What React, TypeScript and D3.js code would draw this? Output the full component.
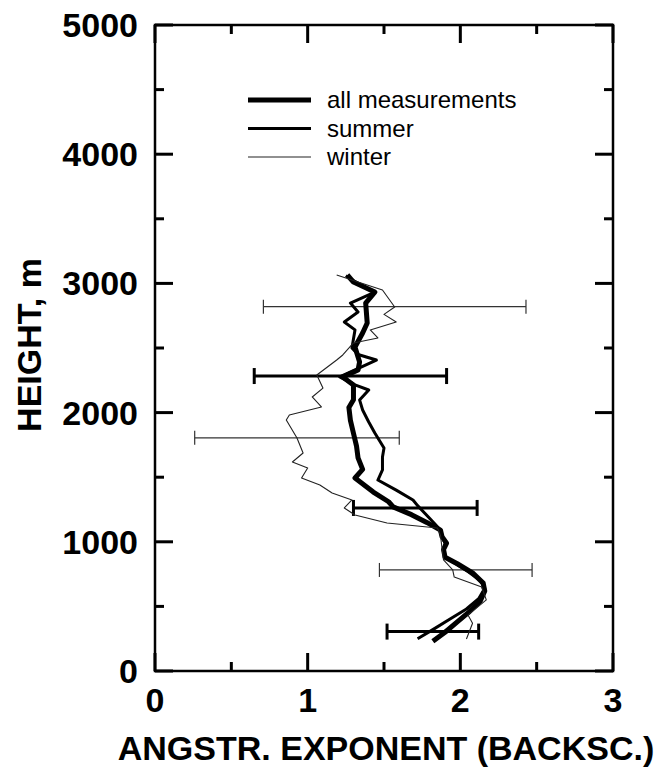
import React from 'react';
import * as d3 from 'd3';

// profiles: [angstrom exponent, height m], bottom -> top
const allMeasurements: [number, number][] = [
  [1.82, 230], [1.90, 300], [1.98, 380], [2.06, 460], [2.13, 540], [2.16, 620],
  [2.15, 680], [2.08, 760], [1.98, 830], [1.90, 880], [1.89, 940], [1.91, 990],
  [1.88, 1040], [1.87, 1090], [1.78, 1150], [1.68, 1210], [1.56, 1270], [1.53, 1310],
  [1.43, 1385], [1.31, 1494], [1.36, 1560], [1.33, 1650], [1.32, 1740], [1.30, 1840],
  [1.28, 1940], [1.27, 2040], [1.30, 2100], [1.30, 2214], [1.23, 2276], [1.33, 2330],
  [1.34, 2392], [1.31, 2508], [1.36, 2616], [1.39, 2694], [1.38, 2848], [1.44, 2933],
  [1.30, 3010], [1.26, 3065],
];

const summer: [number, number][] = [
  [1.72, 250], [1.82, 320], [1.93, 400], [2.04, 480], [2.12, 560], [2.16, 640],
  [2.13, 700], [2.05, 770], [1.97, 830], [1.90, 880], [1.89, 940], [1.90, 990],
  [1.88, 1040], [1.87, 1091], [1.80, 1180], [1.72, 1280], [1.69, 1324], [1.58, 1400],
  [1.46, 1478], [1.49, 1556], [1.49, 1657], [1.50, 1726], [1.44, 1842], [1.40, 1927],
  [1.36, 2020], [1.34, 2098], [1.40, 2175], [1.31, 2214], [1.21, 2276], [1.45, 2407],
  [1.33, 2450], [1.29, 2500], [1.31, 2640], [1.24, 2701], [1.33, 2779], [1.28, 2848],
  [1.44, 2933], [1.33, 3000], [1.25, 3060],
];

const winter: [number, number][] = [
  [2.04, 248], [2.08, 370], [2.05, 433], [2.17, 550], [2.14, 650], [1.96, 727],
  [1.95, 782], [1.89, 860], [1.88, 950], [1.87, 1050], [1.85, 1107], [1.52, 1145],
  [1.31, 1207], [1.24, 1262], [1.29, 1324], [1.16, 1378], [1.08, 1440], [0.96, 1494],
  [1.00, 1571], [0.90, 1618], [0.97, 1687], [0.93, 1803], [0.86, 1943], [0.88, 1981],
  [1.09, 2044], [1.03, 2121], [1.10, 2190], [1.06, 2291], [1.19, 2407], [1.23, 2446],
  [1.30, 2539], [1.46, 2578], [1.41, 2640], [1.58, 2701], [1.50, 2760], [1.57, 2817],
  [1.49, 2949], [1.19, 3065],
];

// error bars: height, low, high, thick (summer) or thin (winter)
const errHeights = [2820, 2283, 1805, 1262, 782, 305];
const errLow = [0.71, 0.65, 0.26, 1.30, 1.47, 1.52];
const errHigh = [2.43, 1.91, 1.60, 2.11, 2.47, 2.12];
const errThick = [false, true, false, true, false, true];

const legendLabels = ['all measurements', 'summer', 'winter'];
const xTicks = [0, 1, 2, 3];
const yTicks = [0, 1000, 2000, 3000, 4000, 5000];

const width = 663;
const height = 770;
const font = '"Liberation Sans", Arial, sans-serif';

export default function App() {
  const x = d3.scaleLinear().domain([0, 3]).range([155, 613]);
  const y = d3.scaleLinear().domain([0, 5000]).range([671, 25]);
  const line = d3.line<[number, number]>().x(d => x(d[0])).y(d => y(d[1]));

  const series = [
    { data: allMeasurements, w: 5, color: '#000' },
    { data: summer, w: 3, color: '#000' },
    { data: winter, w: 1.1, color: '#222' },
  ];

  const xMinor = d3.range(0, 3.01, 0.5);
  const yMinor = d3.range(0, 5001, 500);

  return (
    <svg width={width} height={height} style={{ position: 'absolute', left: 0, top: 0 }}>
      <rect width={width} height={height} fill="#fff" />

      {/* frame */}
      <rect x={x(0)} y={y(5000)} width={x(3) - x(0)} height={y(0) - y(5000)}
        fill="none" stroke="#000" strokeWidth={2.5} />

      {/* ticks on all four sides, pointing inward */}
      {xMinor.map(v => {
        const len = Number.isInteger(v) ? 18 : 9;
        return (
          <g key={'xt' + v} stroke="#000" strokeWidth={3}>
            <line x1={x(v)} x2={x(v)} y1={y(0)} y2={y(0) - len} />
            <line x1={x(v)} x2={x(v)} y1={y(5000)} y2={y(5000) + len} />
          </g>
        );
      })}
      {yMinor.map(v => {
        const len = v % 1000 === 0 ? 18 : 9;
        return (
          <g key={'yt' + v} stroke="#000" strokeWidth={3}>
            <line x1={x(0)} x2={x(0) + len} y1={y(v)} y2={y(v)} />
            <line x1={x(3)} x2={x(3) - len} y1={y(v)} y2={y(v)} />
          </g>
        );
      })}

      {/* tick labels */}
      {xTicks.map(v => (
        <text key={'xl' + v} x={x(v)} y={712} textAnchor="middle"
          fontFamily={font} fontWeight="bold" fontSize={34}>{v}</text>
      ))}
      {yTicks.map(v => (
        <text key={'yl' + v} x={138} y={y(v) + 12} textAnchor="end"
          fontFamily={font} fontWeight="bold" fontSize={34}>{v}</text>
      ))}

      {/* axis titles */}
      <text x={386} y={760} textAnchor="middle" fontFamily={font} fontWeight="bold" fontSize={34}>
        ANGSTR. EXPONENT (BACKSC.)
      </text>
      <text transform="translate(41,345) rotate(-90)" textAnchor="middle"
        fontFamily={font} fontWeight="bold" fontSize={34}>HEIGHT, m</text>

      {/* error bars */}
      {errHeights.map((h, i) => {
        const thick = errThick[i];
        const sw = thick ? 3 : 1.2;
        const cap = thick ? 8 : 7;
        const col = thick ? '#000' : '#333';
        return (
          <g key={'eb' + i} stroke={col} strokeWidth={sw}>
            <line x1={x(errLow[i])} x2={x(errHigh[i])} y1={y(h)} y2={y(h)} />
            <line x1={x(errLow[i])} x2={x(errLow[i])} y1={y(h) - cap} y2={y(h) + cap} />
            <line x1={x(errHigh[i])} x2={x(errHigh[i])} y1={y(h) - cap} y2={y(h) + cap} />
          </g>
        );
      })}

      {/* profiles */}
      {series.map((s, i) => (
        <path key={'s' + i} d={line(s.data) || ''} fill="none" stroke={s.color}
          strokeWidth={s.w} strokeLinejoin="round" />
      ))}

      {/* legend */}
      {legendLabels.map((lab, i) => {
        const ly = 100 + i * 28.5;
        return (
          <g key={'lg' + i}>
            <line x1={248} x2={311} y1={ly} y2={ly} stroke={series[i].color}
              strokeWidth={series[i].w} />
            <text x={327} y={ly + 8} fontFamily={font} fontSize={24}>{lab}</text>
          </g>
        );
      })}
    </svg>
  );
}
